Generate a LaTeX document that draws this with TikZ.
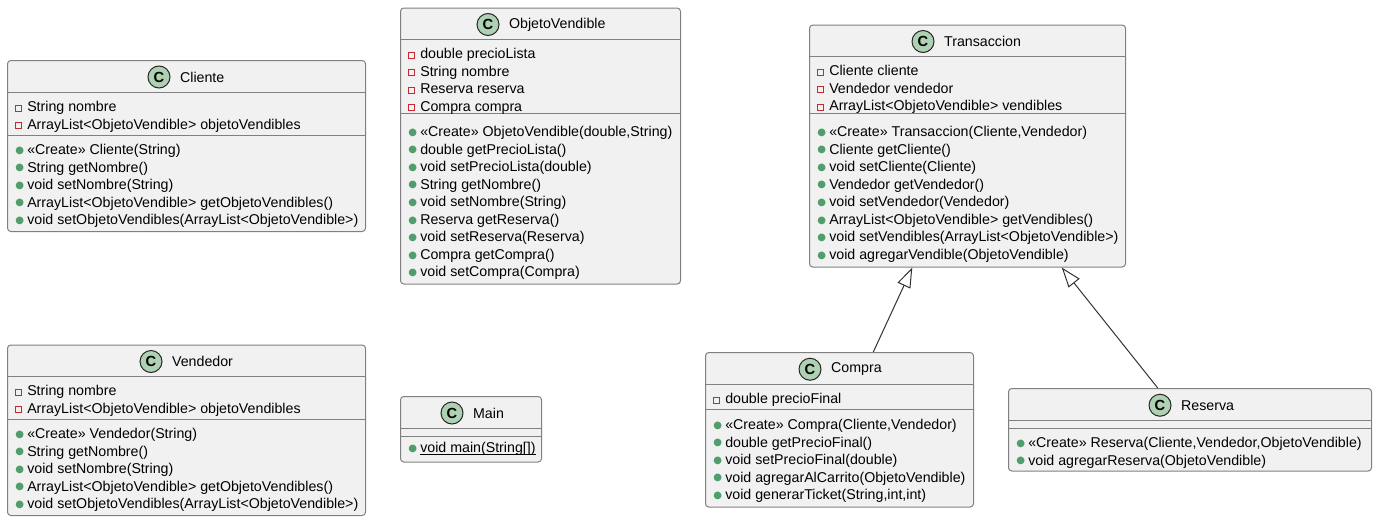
\documentclass[tikz,border=0pt]{standalone}
\usepackage{fontspec}
\setmainfont{Liberation Sans}
\newfontfamily\symfont{DejaVu Sans}
\usepackage{xcolor}
\usetikzlibrary{positioning, arrows.meta}
\definecolor{boxfill}{HTML}{F1F1F1}
\definecolor{boxline}{HTML}{808080}
\definecolor{spotfill}{HTML}{ADD1B2}
\definecolor{privred}{HTML}{C82930}
\definecolor{pubgreen}{HTML}{4F9E6B}
\newcommand{\priv}{\makebox[11.25pt][l]{\hspace{2pt}\raisebox{0.8pt}{\textcolor{privred}{\setlength{\fboxsep}{0pt}\setlength{\fboxrule}{0.7pt}\fbox{\rule{3.6pt}{0pt}\rule{0pt}{3.6pt}}}}}}
\newcommand{\pub}{\makebox[11.25pt][c]{\raisebox{0.9pt}{\symfont\fontsize{7.5}{7.5}\selectfont\textcolor{pubgreen}{●}}}}
\begin{document}
\begin{tikzpicture}[
  x = 0.75pt, y = -0.75pt,
  node distance = 7pt,
  classbox/.style = {draw=boxline, fill=boxfill, rounded corners=2.5pt, line width=0.75pt, anchor=north west, inner sep=0pt},
  sepline/.style = {draw=boxline, line width=0.75pt},
  spot/.style = {draw=black!85, fill=spotfill, circle, line width=0.75pt, minimum size=16.5pt, inner sep=0pt, font=\bfseries\fontsize{11}{11}\selectfont},
  classtitle/.style = {font=\fontsize{10.66}{12}\selectfont, inner sep=0pt},
  members/.style = {anchor=north west, align=left, inner sep=0pt, font=\fontsize{10.66}{13.15}\selectfont},
  inherits/.style = {-{Triangle[open, fill=white, length=15pt, width=10.5pt]}, draw=black!80, line width=0.75pt}
]
  \useasboundingbox (0,0) rectangle (1377,521);
  % marcos de las clases
  \foreach \nm/\xa/\ya/\xb/\yb/\sa/\sb/\cx/\ttl in {
    cliente/7/60/365/231/92/135/159/Cliente,
    vendedor/7/344.5/365/515/376.5/419.5/151/Vendedor,
    objeto/400/7.5/680/283.5/39.5/113.5/488/ObjetoVendible,
    principal/400/396/541/461.5/428/436/452/Main,
    transaccion/809/24.5/1125/266.5/56.5/113.5/923/Transaccion,
    compra/705/352/973/506.5/384.5/409.5/810/Compra,
    reserva/1008/388/1371/470.5/420.5/428.5/1160/Reserva%
  }{
    \node[classbox, minimum width={(\xb-\xa)*0.75pt}, minimum height={(\yb-\ya)*0.75pt}] (\nm) at (\xa,\ya) {};
    \draw[sepline] (\nm.west |- 0,\sa) -- (\nm.east |- 0,\sa);
    \draw[sepline] (\nm.west |- 0,\sb) -- (\nm.east |- 0,\sb);
    \node[spot] (\nm Spot) at (\cx,{(\ya+\sa)/2+1}) {C};
    \node[classtitle, right=7pt of \nm Spot] (\nm Title) {\ttl};
  }
  % atributos
  \node[members] (clienteFields) at (12,101) {\priv String nombre\\\priv ArrayList<ObjetoVendible> objetoVendibles};
  \node[members] (vendedorFields) at (12,385) {\priv String nombre\\\priv ArrayList<ObjetoVendible> objetoVendibles};
  \node[members] (objetoFields) at (405,48) {\priv double precioLista\\\priv String nombre\\\priv Reserva reserva\\\priv Compra compra};
  \node[members] (transaccionFields) at (814,65) {\priv Cliente cliente\\\priv Vendedor vendedor\\\priv ArrayList<ObjetoVendible> vendibles};
  \node[members] (compraFields) at (710,393) {\priv double precioFinal};
  % metodos
  \node[members] (clienteMethods) at (12,144) {\pub «Create» Cliente(String)\\\pub String getNombre()\\\pub void setNombre(String)\\\pub ArrayList<ObjetoVendible> getObjetoVendibles()\\\pub void setObjetoVendibles(ArrayList<ObjetoVendible>)};
  \node[members] (vendedorMethods) at (12,428) {\pub «Create» Vendedor(String)\\\pub String getNombre()\\\pub void setNombre(String)\\\pub ArrayList<ObjetoVendible> getObjetoVendibles()\\\pub void setObjetoVendibles(ArrayList<ObjetoVendible>)};
  \node[members] (objetoMethods) at (405,126) {\pub «Create» ObjetoVendible(double,String)\\\pub double getPrecioLista()\\\pub void setPrecioLista(double)\\\pub String getNombre()\\\pub void setNombre(String)\\\pub Reserva getReserva()\\\pub void setReserva(Reserva)\\\pub Compra getCompra()\\\pub void setCompra(Compra)};
  \node[members] (principalMethods) at (405,445) {\pub \underline{\smash{void main(String[])}}};
  \node[members] (transaccionMethods) at (814,126) {\pub «Create» Transaccion(Cliente,Vendedor)\\\pub Cliente getCliente()\\\pub void setCliente(Cliente)\\\pub Vendedor getVendedor()\\\pub void setVendedor(Vendedor)\\\pub ArrayList<ObjetoVendible> getVendibles()\\\pub void setVendibles(ArrayList<ObjetoVendible>)\\\pub void agregarVendible(ObjetoVendible)};
  \node[members] (compraMethods) at (710,419) {\pub «Create» Compra(Cliente,Vendedor)\\\pub double getPrecioFinal()\\\pub void setPrecioFinal(double)\\\pub void agregarAlCarrito(ObjetoVendible)\\\pub void generarTicket(String,int,int)};
  \node[members] (reservaMethods) at (1013,437) {\pub «Create» Reserva(Cliente,Vendedor,ObjetoVendible)\\\pub void agregarReserva(ObjetoVendible)};
  % herencia
  \draw[inherits] ([xshift=25.35pt]compra.north) -- ([xshift=-41.4pt]transaccion.south);
  \draw[inherits] ([xshift=-24.2pt]reserva.north) -- ([xshift=70.65pt]transaccion.south);
\end{tikzpicture}
\end{document}
